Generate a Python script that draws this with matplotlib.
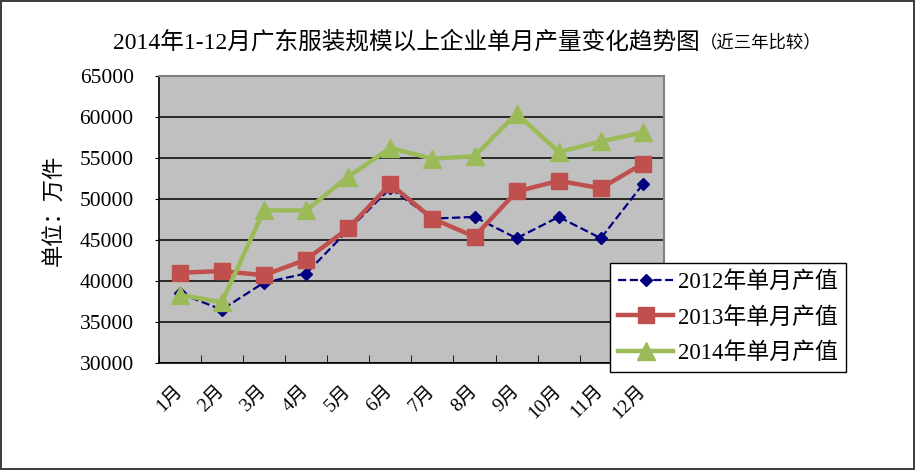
import numpy as np
import matplotlib.pyplot as plt
import matplotlib.transforms as mtransforms

plt.rcParams['font.family'] = ['Liberation Serif', 'Noto Sans CJK SC']

# month labels and the three yearly series (10k pieces)
months = ['1月', '2月', '3月', '4月', '5月', '6月', '7月', '8月', '9月', '10月', '11月', '12月']
y2012 = [38500, 36500, 39800, 40900, 46200, 51300, 47600, 47800, 45200, 47800, 45200, 51800]
y2013 = [41000, 41200, 40700, 42600, 46400, 51800, 47600, 45400, 50900, 52200, 51300, 54300]
y2014 = [38300, 37400, 48600, 48600, 52700, 56200, 54900, 55200, 60400, 55700, 57000, 58100]
yticks = [30000, 35000, 40000, 45000, 50000, 55000, 60000, 65000]

fig = plt.figure(figsize=(9.15, 4.70), dpi=100)
fig.patch.set_edgecolor('#404040')
fig.patch.set_linewidth(1.5)

ax = fig.add_axes([0.1734, 0.2277, 0.5523, 0.611])
ax.set_facecolor('#C0C0C0')

x = np.arange(len(months))
ax.plot(x, y2012, color='#000080', ls='--', lw=1.6, marker='D', ms=6.5, label='2012年单月产值', zorder=3)
ax.plot(x, y2013, color='#C0504D', lw=3.2, marker='s', ms=12, label='2013年单月产值', zorder=4)
ax.plot(x, y2014, color='#9BBB59', lw=3.2, marker='^', ms=13, label='2014年单月产值', zorder=5)

ax.set_xlim(-0.5, len(months) - 0.5)
ax.set_ylim(30000, 65000)
ax.set_yticks(yticks)
ax.set_yticklabels([str(v) for v in yticks], fontsize=15.5)
ax.grid(axis='y', color='black', lw=1.1)
ax.set_axisbelow(True)

ax.set_xticks(x)
ax.set_xticklabels(months, rotation=45, ha='right', va='center', rotation_mode='anchor', fontsize=14)
shift = mtransforms.ScaledTranslation(-0.03, 0, fig.dpi_scale_trans)
for lab in ax.get_xticklabels():
    lab.set_transform(lab.get_transform() + shift)
ax.set_xticks(np.arange(len(months) + 1) - 0.5, minor=True)
ax.tick_params(axis='x', which='major', length=0, pad=18)
ax.tick_params(axis='x', which='minor', direction='in', length=6, color='black')
ax.tick_params(axis='y', direction='out', length=3, pad=15)

for s in ['top', 'right']:
    ax.spines[s].set_color('#808080')
    ax.spines[s].set_linewidth(1.5)
for s in ['left', 'bottom']:
    ax.spines[s].set_color('black')
    ax.spines[s].set_linewidth(1.2)

ax.set_ylabel('单位：万件', fontsize=16)
ax.yaxis.set_label_coords(-0.185, 0.532)

fig.text(0.765, 0.91, '2014年1-12月广东服装规模以上企业单月产量变化趋势图', fontsize=17, ha='right', va='center')
fig.text(0.765, 0.908, '（近三年比较）', fontsize=12.5, ha='left', va='center')

leg = fig.legend(loc='upper left', bbox_to_anchor=(0.6667, 0.4404), fontsize=16.5,
                 frameon=True, fancybox=False, edgecolor='black', framealpha=1,
                 handlelength=2.4, borderpad=0.35, labelspacing=0.6, handletextpad=0.2,
                 borderaxespad=0)
leg.get_frame().set_linewidth(1.0)

fig.savefig('out.png', dpi=100)
